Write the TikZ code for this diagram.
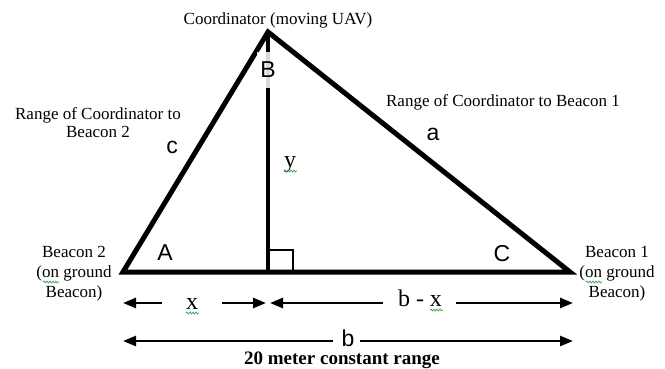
\documentclass[tikz,border=0pt]{standalone}
\usepackage{fontspec}
\setmainfont{Liberation Serif}
\setsansfont{Liberation Sans}
\usetikzlibrary{arrows.meta,decorations.pathmorphing}
\definecolor{spell}{RGB}{70,170,80}
\begin{document}
\begin{tikzpicture}[x=1pt,y=-1pt,
  tri/.style={line width=5pt,line join=miter},
  alt/.style={line width=4pt},
  sq/.style={line width=2.5pt},
  dim/.style={line width=2.6pt,-{Triangle[length=13pt,width=10pt]}},
  lbl/.style={font=\fontsize{17}{20}\selectfont,inner sep=0pt,anchor=base,align=center},
  ang/.style={font=\sffamily\fontsize{23}{23}\selectfont,inner sep=0pt,anchor=base},
  var/.style={font=\fontsize{24}{24}\selectfont,inner sep=0pt,anchor=base},
  squig/.style={spell,line width=0.8pt,decorate,decoration={snake,amplitude=0.9pt,segment length=3pt}}]
\useasboundingbox (0,0) rectangle (665,368);
% triangle
\coordinate (U) at (268,32);
\coordinate (B2) at (123,272);
\coordinate (B1) at (570,272);
\coordinate (F) at (268,272);
\coordinate (Q) at (293,250);
\draw[tri] (B2) -- (U) -- (B1) -- cycle;
\draw[alt] (U) -- (F);
\draw[sq] (F) rectangle (Q);
\node[font=\sffamily\fontsize{23}{23}\selectfont,inner sep=0pt,minimum width=22pt,minimum height=36pt,fill=white,fill opacity=.85,text opacity=1] (lB) at (268,70) {B};
% texts (multi-line nodes: base = baseline of last line)
\node[lbl] (tU) at (278,24) {Coordinator (moving UAV)};
\node[lbl,font=\fontsize{17}{18}\selectfont] (tR2) at (98,137) {Range of Coordinator to\\Beacon 2};
\node[lbl] (tR1) at (503,106) {Range of Coordinator to Beacon 1};
\node[lbl] (tB2) at (74,297) {Beacon 2\\(on ground\\Beacon)};
\node[lbl] (tB1) at (617,297) {Beacon 1\\(on ground\\Beacon)};
\node[ang] (lA) at (165,260) {A};
\node[ang] (lC) at (502,261) {C};
\node[ang] (lc) at (172,153) {c};
\node[ang] (la) at (433,140) {a};
\node[var] (ly) at (290,167) {y};
\node[var] (lx) at (192,309) {x};
\node[var] (lbx) at (420,306) {b - x};
\node[ang] (lb) at (348,346.5) {b};
\node[font=\bfseries\fontsize{19}{20}\selectfont,inner sep=0pt,anchor=base] (lrange) at (342,364) {20 meter constant range};
% dimension arrows
\coordinate (x1s) at (162,303); \coordinate (x1e) at (123,303);
\coordinate (x2s) at (222,303); \coordinate (x2e) at (266,303);
\coordinate (bx1s) at (383,303); \coordinate (bx1e) at (270,303);
\coordinate (bx2s) at (456,303); \coordinate (bx2e) at (573,303);
\coordinate (b1s) at (333,341); \coordinate (b1e) at (123,341);
\coordinate (b2s) at (360,341); \coordinate (b2e) at (573,341);
\draw[dim] (x1s) -- (x1e);
\draw[dim] (x2s) -- (x2e);
\draw[dim] (bx1s) -- (bx1e);
\draw[dim] (bx2s) -- (bx2e);
\draw[dim] (b1s) -- (b1e);
\draw[dim] (b2s) -- (b2e);
% spell-check squiggles
\coordinate (s1a) at (186,313); \coordinate (s1b) at (199,313);
\coordinate (s2a) at (430,310); \coordinate (s2b) at (443,310);
\coordinate (s3a) at (284,171); \coordinate (s3b) at (297,171);
\coordinate (s4a) at (43,282); \coordinate (s4b) at (59,282);
\coordinate (s5a) at (586,282); \coordinate (s5b) at (602,282);
\draw[squig] (s1a) -- (s1b);
\draw[squig] (s2a) -- (s2b);
\draw[squig] (s3a) -- (s3b);
\draw[squig] (s4a) -- (s4b);
\draw[squig] (s5a) -- (s5b);
\end{tikzpicture}
\end{document}
